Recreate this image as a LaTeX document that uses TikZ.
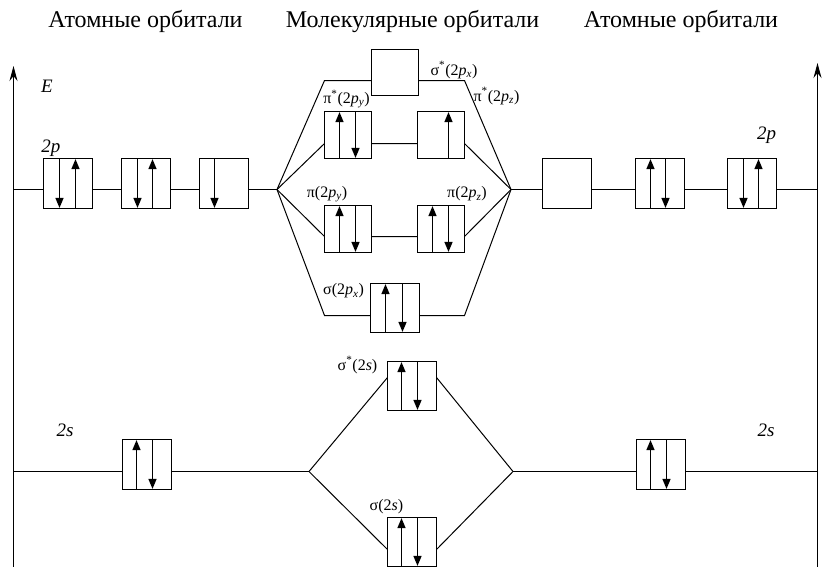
\documentclass[tikz,border=0pt]{standalone}
\usepackage{fontspec}
\setmainfont{Liberation Serif}
\newfontfamily\tms{Liberation Serif}
\usetikzlibrary{arrows.meta}
\newcommand\spinup[2]{\draw[spin] ([xshift=#2]#1.south) -- ([xshift=#2]#1.north);}
\newcommand\spindn[2]{\draw[spin] ([xshift=#2]#1.north) -- ([xshift=#2]#1.south);}
\begin{document}
\begin{tikzpicture}[x=1pt,y=-1pt,
  orb/.style={draw, line width=1pt, minimum width=49pt, minimum height=50pt, inner sep=0pt, outer sep=0pt},
  mo/.style={orb, minimum width=47pt, minimum height=47pt},
  mos/.style={orb, minimum width=49pt, minimum height=49pt},
  spin/.style={line width=1.4pt, -{Triangle[length=10pt,width=8pt]}, shorten >=0.6pt},
  lvl/.style={line width=1pt},
  axis/.style={line width=1.3pt, -{Stealth[length=15pt,width=8pt,inset=5pt]}},
  ttl/.style={font=\tms\fontsize{24}{28}\selectfont, inner sep=0pt},
  lbl/.style={font=\tms\fontsize{16}{19}\selectfont, inner sep=0pt},
  ao/.style={font=\tms\fontsize{19}{22}\selectfont\itshape, inner sep=0pt}]
\useasboundingbox (0,0) rectangle (822,566);
\clip (0,0) rectangle (822,566);

% titles
\node[ttl, anchor=base] (t1) at (145.5,27.5) {Атомные орбитали};
\node[ttl, anchor=base] (t2) at (412.5,27.5) {Молекулярные орбитали};
\node[ttl, anchor=base] (t3) at (681,27.5) {Атомные орбитали};

% axes
\coordinate (axLb) at (13.5,570);
\coordinate (axLt) at (13.5,66);
\coordinate (axRb) at (817.5,570);
\coordinate (axRt) at (817.5,63);
\draw[axis] (axLb) -- (axLt);
\draw[axis] (axRb) -- (axRt);
\node[font=\tms\fontsize{19}{21}\selectfont\itshape, inner sep=0pt] (E) at (47,86) {E};

% level coordinates
\coordinate (p2L) at (13.5,189.5);
\coordinate (p2R) at (817.5,189.5);
\coordinate (VL) at (277,189.5);
\coordinate (VR) at (511,189.5);
\coordinate (cTL) at (324.5,80.5);
\coordinate (cTR) at (464.5,80.5);
\coordinate (cBL) at (324.5,315.5);
\coordinate (cBR) at (464.5,315.5);
\coordinate (s2L) at (13.5,471.5);
\coordinate (s2R) at (817.5,471.5);
\coordinate (VLs) at (309,471.5);
\coordinate (VRs) at (513,471.5);

% atomic 2p boxes
\node[orb] (L1) at (68,183.5) {};
\node[orb] (L2) at (146,183.5) {};
\node[orb] (L3) at (224,183.5) {};
\node[orb] (R1) at (567,183.5) {};
\node[orb] (R2) at (660,183.5) {};
\node[orb] (R3) at (752,183.5) {};
\node[ao] (lab2pL) at (51,148) {2\textit{p}};
\node[ao] (lab2pR) at (766.5,135) {2\textit{p}};

% molecular 2p boxes
\node[mo, minimum height=46pt] (S1) at (395,72.5) {};
\node[mo] (PSy) at (348,135) {};
\node[mo] (PSz) at (441,135) {};
\node[mo] (Py) at (348,229) {};
\node[mo] (Pz) at (441,229) {};
\node[mos] (S2) at (395,308) {};

% 2s boxes
\node[orb] (LS) at (147,464.5) {};
\node[orb] (RS) at (661,464.5) {};
\node[mos] (SS1) at (412,386) {};
\node[mos] (SS2) at (412,542) {};
\node[ao] (lab2sL) at (65,430) {2\textit{s}};
\node[ao] (lab2sR) at (766,430) {2\textit{s}};

% MO labels
\node[lbl] (lS1) at (454,70) {σ\textsuperscript{*}(2\textit{p}\textsubscript{\textit{x}})};
\node[lbl] (lPSz) at (496.5,96) {π\textsuperscript{*}(2\textit{p}\textsubscript{\textit{z}})};
\node[lbl] (lPSy) at (346.5,99) {π\textsuperscript{*}(2\textit{p}\textsubscript{\textit{y}})};
\node[lbl] (lPy) at (327,194) {π(2\textit{p}\textsubscript{\textit{y}})};
\node[lbl] (lPz) at (467,194) {π(2\textit{p}\textsubscript{\textit{z}})};
\node[lbl] (lS2) at (343.5,291) {σ(2\textit{p}\textsubscript{\textit{x}})};
\node[lbl] (lSS1) at (357.5,365) {σ\textsuperscript{*}(2\textit{s})};
\node[lbl] (lSS2) at (386.5,507) {σ(2\textit{s})};

% 2p level lines
\draw[lvl] (p2L) -- (L1.west |- p2L) (L1.east |- p2L) -- (L2.west |- p2L)
  (L2.east |- p2L) -- (L3.west |- p2L) (L3.east |- p2L) -- (VL);
\draw[lvl] (VR) -- (R1.west |- VR) (R1.east |- VR) -- (R2.west |- VR)
  (R2.east |- VR) -- (R3.west |- VR) (R3.east |- VR) -- (p2R);
% sigma* 2px
\draw[lvl] (VL) -- (cTL) -- (S1.west |- cTL) (S1.east |- cTR) -- (cTR) -- (VR);
% pi*
\draw[lvl] (VL) -- ([yshift=-8.5pt]PSy.west) ([yshift=-8.5pt]PSy.east) -- ([yshift=-8.5pt]PSz.west)
  ([yshift=-8.5pt]PSz.east) -- (VR);
% pi
\draw[lvl] (VL) -- ([yshift=-7.5pt]Py.west) ([yshift=-7.5pt]Py.east) -- ([yshift=-7.5pt]Pz.west)
  ([yshift=-7.5pt]Pz.east) -- (VR);
% sigma 2px
\draw[lvl] (VL) -- (cBL) -- (S2.west |- cBL) (S2.east |- cBR) -- (cBR) -- (VR);
% 2s lines
\draw[lvl] (s2L) -- (LS.west |- s2L) (LS.east |- s2L) -- (VLs);
\draw[lvl] (VRs) -- (RS.west |- VRs) (RS.east |- VRs) -- (s2R);
\draw[lvl] (VLs) -- ([yshift=8.5pt]SS1.west) ([yshift=8.5pt]SS1.east) -- (VRs);
\draw[lvl] (VLs) -- ([yshift=-7.5pt]SS2.west) ([yshift=-7.5pt]SS2.east) -- (VRs);

% spins
\spindn{L1}{-8.5pt}\spinup{L1}{7.5pt}
\spindn{L2}{-8.5pt}\spinup{L2}{6.5pt}
\spindn{L3}{-9.5pt}
\spinup{R2}{-9.5pt}\spindn{R2}{5.5pt}
\spindn{R3}{-8.5pt}\spinup{R3}{6.5pt}
\spinup{PSy}{-8.5pt}\spindn{PSy}{7.5pt}
\spinup{PSz}{7.5pt}
\spinup{Py}{-8.5pt}\spindn{Py}{7.5pt}
\spinup{Pz}{-8.5pt}\spindn{Pz}{7.5pt}
\spinup{S2}{-9.5pt}\spindn{S2}{7.5pt}
\spinup{LS}{-10.5pt}\spindn{LS}{5.5pt}
\spinup{RS}{-10.5pt}\spindn{RS}{5.5pt}
\spinup{SS1}{-10.5pt}\spindn{SS1}{5.5pt}
\spinup{SS2}{-10.5pt}\spindn{SS2}{5.5pt}
\end{tikzpicture}
\end{document}
